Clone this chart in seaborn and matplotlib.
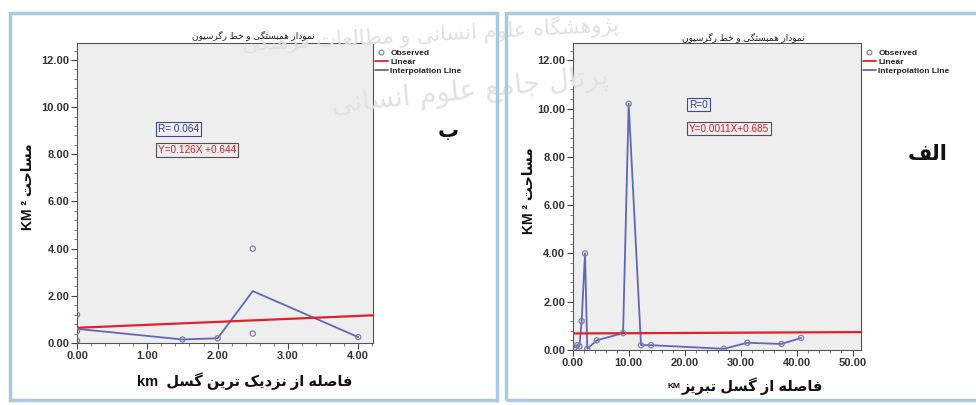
import numpy as np
import pandas as pd
import matplotlib
matplotlib.use("Agg")
import matplotlib.pyplot as plt
import seaborn as sns
from matplotlib.patches import Rectangle
from matplotlib.lines import Line2D
from matplotlib.ticker import MultipleLocator, AutoMinorLocator, FormatStrFormatter

# ---------------- data ----------------
# panel "ب": distance from nearest fault (km) vs. area (km^2)
near_dist = [0.0, 0.0, 0.0, 1.5, 2.0, 2.5, 2.5, 4.0]
near_area = [1.2, 0.1, 0.5, 0.15, 0.2, 4.0, 0.4, 0.25]
near_fit = (0.126, 0.644)          # slope, intercept
near_r = "0.064"

# panel "الف": distance from Tabriz fault (km) vs. area (km^2)
tab_dist = [0.3, 0.8, 1.2, 1.6, 2.2, 2.6, 4.3, 9.0, 10.0, 12.2, 14.0, 27.0, 31.2, 37.3, 40.8]
tab_area = [0.1, 0.2, 0.15, 1.2, 4.0, 0.05, 0.4, 0.7, 10.2, 0.2, 0.2, 0.05, 0.3, 0.25, 0.5]
tab_fit = (0.0011, 0.685)
tab_r = "0"

y_ticks = [0, 2, 4, 6, 8, 10, 12]

# ---------------- Persian text shaping ----------------
FORMS = {
    'ا': (0xFE8D, 0xFE8E), 'ب': (0xFE8F, 0xFE90, 0xFE91, 0xFE92),
    'پ': (0xFB56, 0xFB57, 0xFB58, 0xFB59), 'ت': (0xFE95, 0xFE96, 0xFE97, 0xFE98),
    'ج': (0xFE9D, 0xFE9E, 0xFE9F, 0xFEA0), 'ح': (0xFEA1, 0xFEA2, 0xFEA3, 0xFEA4),
    'خ': (0xFEA5, 0xFEA6, 0xFEA7, 0xFEA8), 'د': (0xFEA9, 0xFEAA),
    'ر': (0xFEAD, 0xFEAE), 'ز': (0xFEAF, 0xFEB0), 'ژ': (0xFB8A, 0xFB8B),
    'س': (0xFEB1, 0xFEB2, 0xFEB3, 0xFEB4), 'ش': (0xFEB5, 0xFEB6, 0xFEB7, 0xFEB8),
    'ص': (0xFEB9, 0xFEBA, 0xFEBB, 0xFEBC), 'ط': (0xFEC1, 0xFEC2, 0xFEC3, 0xFEC4),
    'ع': (0xFEC9, 0xFECA, 0xFECB, 0xFECC), 'ف': (0xFED1, 0xFED2, 0xFED3, 0xFED4),
    'ک': (0xFB8E, 0xFB8F, 0xFB90, 0xFB91), 'گ': (0xFB92, 0xFB93, 0xFB94, 0xFB95),
    'ل': (0xFEDD, 0xFEDE, 0xFEDF, 0xFEE0), 'م': (0xFEE1, 0xFEE2, 0xFEE3, 0xFEE4),
    'ن': (0xFEE5, 0xFEE6, 0xFEE7, 0xFEE8), 'ه': (0xFEE9, 0xFEEA, 0xFEEB, 0xFEEC),
    'و': (0xFEED, 0xFEEE), 'ی': (0xFBFC, 0xFBFD, 0xFBFE, 0xFBFF),
}


def rtl(text):
    """Contextual letter forms in visual (left-to-right) order."""
    out = []
    n = len(text)
    for i, c in enumerate(text):
        if c not in FORMS:
            out.append(c)
            continue
        f = FORMS[c]
        prev = text[i - 1] if i > 0 else ''
        nxt = text[i + 1] if i < n - 1 else ''
        jp = prev in FORMS and len(FORMS[prev]) == 4
        jn = len(f) == 4 and nxt in FORMS
        if jp and jn:
            code = f[3]
        elif jp:
            code = f[1]
        elif jn:
            code = f[2]
        else:
            code = f[0]
        out.append(chr(code))
    return ''.join(reversed(out))


# ---------------- style ----------------
sns.set_style("ticks")
plt.rcParams['font.family'] = ['Liberation Sans', 'DejaVu Sans']
plt.rcParams['axes.linewidth'] = 0.8

INTERP = '#5f67b8'
LINEAR = '#e0202a'
OBS = '#7c80a6'
PLOT_BG = '#eeeeee'
FRAME = '#a9c8e2'

W, H = 976, 405
fig = plt.figure(figsize=(W / 100, H / 100), dpi=100)
fig.patch.set_facecolor('white')


def fx(px):
    return px / W


def fy(py):
    return 1 - py / H


# panel frames
fig.add_artist(Rectangle((fx(10), fy(400)), fx(497) - fx(10), fy(13) - fy(400),
                         transform=fig.transFigure, fill=False, ec=FRAME, lw=2.5))
fig.add_artist(Rectangle((fx(506), fy(400)), fx(990) - fx(506), fy(13) - fy(400),
                         transform=fig.transFigure, fill=False, ec=FRAME, lw=2.5))

# faint background watermark
fig.text(fx(430), fy(34), rtl('پژوهشگاه علوم انسانی و مطالعات فرهنگی'), fontsize=15,
         color='#e0e0e0', ha='center', va='center', rotation=3, zorder=0, family='DejaVu Sans')
fig.text(fx(470), fy(92), rtl('پرتال جامع علوم انسانی'), fontsize=20,
         color='#e2e2e2', ha='center', va='center', rotation=6, zorder=0, family='DejaVu Sans')


def draw_panel(ax, dist, area, fit, r_text, xmax, xstep, ann_xy):
    df = pd.DataFrame({'dist': dist, 'area': area})
    ax.set_facecolor(PLOT_BG)
    sns.lineplot(data=df, x='dist', y='area', estimator='mean', errorbar=None,
                 color=INTERP, lw=1.3, ax=ax, zorder=3)
    ax.axline((0, fit[1]), slope=fit[0], color=LINEAR, lw=1.6, zorder=4)
    sns.scatterplot(data=df, x='dist', y='area', marker='o', s=14, facecolor='none',
                    edgecolor=OBS, linewidth=0.9, ax=ax, zorder=5)
    ax.set_xlim(0, xmax)
    ax.set_ylim(0, 12.72)
    ax.set_yticks(y_ticks)
    ax.xaxis.set_major_locator(MultipleLocator(xstep))
    ax.xaxis.set_minor_locator(AutoMinorLocator(5))
    ax.yaxis.set_minor_locator(AutoMinorLocator(5))
    ax.xaxis.set_major_formatter(FormatStrFormatter('%.2f'))
    ax.yaxis.set_major_formatter(FormatStrFormatter('%.2f'))
    ax.tick_params(which='major', direction='out', length=4, width=0.8, color='#444',
                   labelsize=8, pad=1.5)
    ax.tick_params(which='minor', direction='out', length=2, width=0.6, color='#666')
    for lab in ax.get_xticklabels() + ax.get_yticklabels():
        lab.set_fontweight('bold')
        lab.set_color('#333')
    for s in ax.spines.values():
        s.set_visible(True)
        s.set_color('#555')
        s.set_linewidth(0.8)
    ax.set_xlabel('')
    ax.set_ylabel('')

    ax.text(ann_xy[0], ann_xy[1], f'R={" " if r_text != "0" else ""}{r_text}',
            color='#2b3d9c', fontsize=7.2, ha='left', va='center', zorder=6,
            bbox=dict(boxstyle='square,pad=0.18', fc='none', ec='#3b4aa0', lw=0.8))
    slope_s = f'{fit[0]:g}'
    ax.text(ann_xy[0], ann_xy[2],
            f'Y={slope_s}X +{fit[1]:g}' if fit[0] > 0.01 else f'Y={slope_s}X+{fit[1]:g}',
            color='#e01c24', fontsize=7.2, ha='left', va='center', zorder=6,
            bbox=dict(boxstyle='square,pad=0.18', fc='none', ec='#5a4a5a', lw=0.8))

    handles = [
        Line2D([], [], marker='o', ls='none', mfc='none', mec=OBS, ms=3.5, mew=0.8),
        Line2D([], [], color=LINEAR, lw=1.3),
        Line2D([], [], color=INTERP, lw=1.3),
    ]
    leg = ax.legend(handles, ['Observed', 'Linear', 'Interpolation Line'],
                    loc='upper left', bbox_to_anchor=(1.0, 0.985), frameon=False,
                    borderaxespad=0, borderpad=0.2, handlelength=1.6, handletextpad=0.3,
                    labelspacing=0.12, prop={'size': 6, 'weight': 'bold'})
    for t in leg.get_texts():
        t.set_color('#222')


# left panel (ب)
axL = fig.add_axes([fx(77), fy(343), fx(373) - fx(77), fy(43) - fy(343)])
draw_panel(axL, near_dist, near_area, near_fit, near_r, 4.21, 1.0, (1.15, 9.07, 8.18))

# right panel (الف)
axR = fig.add_axes([fx(572.7), fy(350), fx(861) - fx(572.7), fy(43) - fy(350)])
draw_panel(axR, tab_dist, tab_area, tab_fit, tab_r, 51.5, 10.0, (20.8, 10.17, 9.17))

# titles
title = rtl('نمودار همبستگی و خط رگرسیون')
fig.text(fx(253), fy(35), title, fontsize=6.5, ha='center', va='center', color='#222')
fig.text(fx(743), fy(37), title, fontsize=6.5, ha='center', va='center', color='#222')

# axis labels
fig.text(fx(245), fy(381), 'km  ' + rtl('فاصله از نزدیک ترین گسل'), fontsize=10.5,
         fontweight='bold', ha='center', va='center', color='#111')
fig.text(fx(752), fy(386), rtl('فاصله از گسل تبریز'), fontsize=10.5,
         fontweight='bold', ha='center', va='center', color='#111')
fig.text(fx(680), fy(387), 'KM', fontsize=6, fontweight='bold', ha='right', va='center',
         color='#111')

ylab = 'KM ² ' + rtl('مساحت')
fig.text(fx(28), fy(187), ylab, fontsize=10, fontweight='bold', rotation=90,
         ha='center', va='center', color='#111')
fig.text(fx(529), fy(191), ylab, fontsize=10, fontweight='bold', rotation=90,
         ha='center', va='center', color='#111')

# panel letters
fig.text(fx(448), fy(132), rtl('ب'), fontsize=15, fontweight='bold', ha='center',
         va='center', color='#111')
fig.text(fx(928), fy(155), rtl('الف'), fontsize=15, fontweight='bold', ha='center',
         va='center', color='#111')

fig.savefig('out.png', dpi=100, facecolor='white')
